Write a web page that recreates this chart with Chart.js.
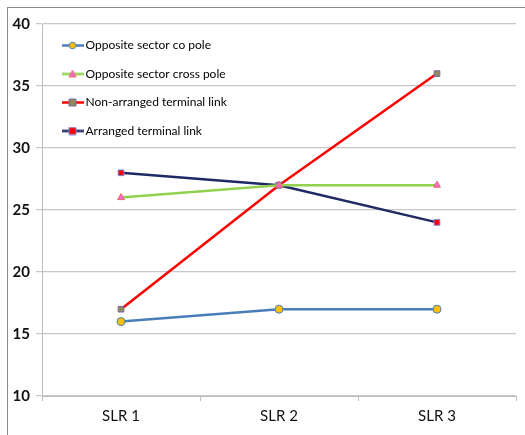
<!DOCTYPE html>
<html>
<head>
<meta charset="utf-8">
<script src="https://cdn.jsdelivr.net/npm/chart.js@4"></script>
<style>
  html, body { margin: 0; padding: 0; background: #fff; }
  #wrap { position: relative; width: 525px; height: 435px; }
  #frame { position: absolute; left: 7px; top: 7px; right: -2px; bottom: -2px; border: 1px solid #8c8c8c; }
  canvas { position: absolute; left: 0; top: 0; }
</style>
</head>
<body>
<div id="wrap">
  <div id="frame"></div>
  <canvas id="chart" width="525" height="435"></canvas>
</div>
<script>
// data
const categories = ["SLR 1", "SLR 2", "SLR 3"];
const coPole = [16, 17, 17];
const crossPole = [26, 27, 27];
const nonArranged = [17, 27, 36];
const arranged = [28, 27, 24];
const yTicks = [10, 15, 20, 25, 30, 35, 40];

// line + marker swatch for the legend
function swatch(lineColor, style, fill, stroke) {
  const c = document.createElement("canvas");
  c.width = 22; c.height = 9;
  const ctx = c.getContext("2d");
  ctx.strokeStyle = lineColor;
  ctx.lineWidth = 2.5;
  ctx.beginPath(); ctx.moveTo(0, 4.5); ctx.lineTo(22, 4.5); ctx.stroke();
  ctx.fillStyle = fill;
  ctx.strokeStyle = stroke;
  ctx.lineWidth = 1;
  ctx.beginPath();
  if (style === "circle") ctx.arc(11, 4.5, 3.3, 0, Math.PI * 2);
  else if (style === "triangle") { ctx.moveTo(11, 0.8); ctx.lineTo(14.5, 7.5); ctx.lineTo(7.5, 7.5); ctx.closePath(); }
  else ctx.rect(7.5, 1, 7, 7);
  ctx.fill(); ctx.stroke();
  return c;
}

const series = [
  { label: "Opposite sector co pole", data: coPole, color: "#4a7ebb", style: "circle", fill: "#ffc000", stroke: "#4a7ebb" },
  { label: "Opposite sector cross pole", data: crossPole, color: "#92d050", style: "triangle", fill: "#ff66cc", stroke: "#e46c6c" },
  { label: "Non-arranged terminal link", data: nonArranged, color: "#ff0000", style: "rect", fill: "#8c8c5a", stroke: "#8064a2" },
  { label: "Arranged terminal link", data: arranged, color: "#1f2a64", style: "rect", fill: "#ff0000", stroke: "#7f7fd0" }
];

// nudge the legend into place inside the plot
const legendShift = {
  id: "legendShift",
  afterLayout(chart) {
    const lg = chart.legend;
    if (!lg) return;
    lg.left += 7; lg.right += 7;
    lg.top += 23; lg.bottom += 23;
  }
};

new Chart(document.getElementById("chart"), {
  type: "line",
  data: {
    labels: categories,
    datasets: series.map(s => ({
      label: s.label,
      data: s.data,
      borderColor: s.color,
      borderWidth: 2.5,
      tension: 0,
      pointStyle: s.style,
      pointRadius: 4,
      pointHoverRadius: 4,
      pointBackgroundColor: s.fill,
      pointBorderColor: s.stroke,
      pointBorderWidth: 1
    }))
  },
  plugins: [legendShift],
  options: {
    responsive: false,
    animation: false,
    layout: { padding: { left: 0, right: 9, top: 24, bottom: 0 } },
    plugins: {
      tooltip: { enabled: false },
      legend: {
        position: "chartArea",
        align: "start",
        labels: {
          font: { family: "Lato", size: 12 },
          color: "#000",
          padding: 16.5,
          usePointStyle: true,
          pointStyleWidth: 14,
          generateLabels: chart => series.map((s, i) => ({
            text: s.label,
            pointStyle: swatch(s.color, s.style, s.fill, s.stroke),
            datasetIndex: i,
            fillStyle: s.fill,
            strokeStyle: s.color,
            lineWidth: 0,
            hidden: false
          }))
        }
      }
    },
    scales: {
      x: {
        offset: true,
        afterFit: s => { s.height = 39; },
        grid: { offset: true, drawOnChartArea: false, tickLength: 5, color: "#bdbdbd" },
        border: { color: "#bdbdbd" },
        ticks: { font: { family: "Lato", size: 15 }, color: "#111", padding: 6 }
      },
      y: {
        min: 10,
        max: 40,
        afterFit: s => { s.width = 42; },
        afterBuildTicks: s => { s.ticks = yTicks.map(v => ({ value: v })); },
        grid: { color: "#c8c8c8", tickLength: 6, lineWidth: 1.2 },
        border: { color: "#bdbdbd" },
        ticks: { font: { family: "Lato", size: 15, weight: "bold" }, color: "#111", padding: 6 }
      }
    }
  }
});
</script>
</body>
</html>
